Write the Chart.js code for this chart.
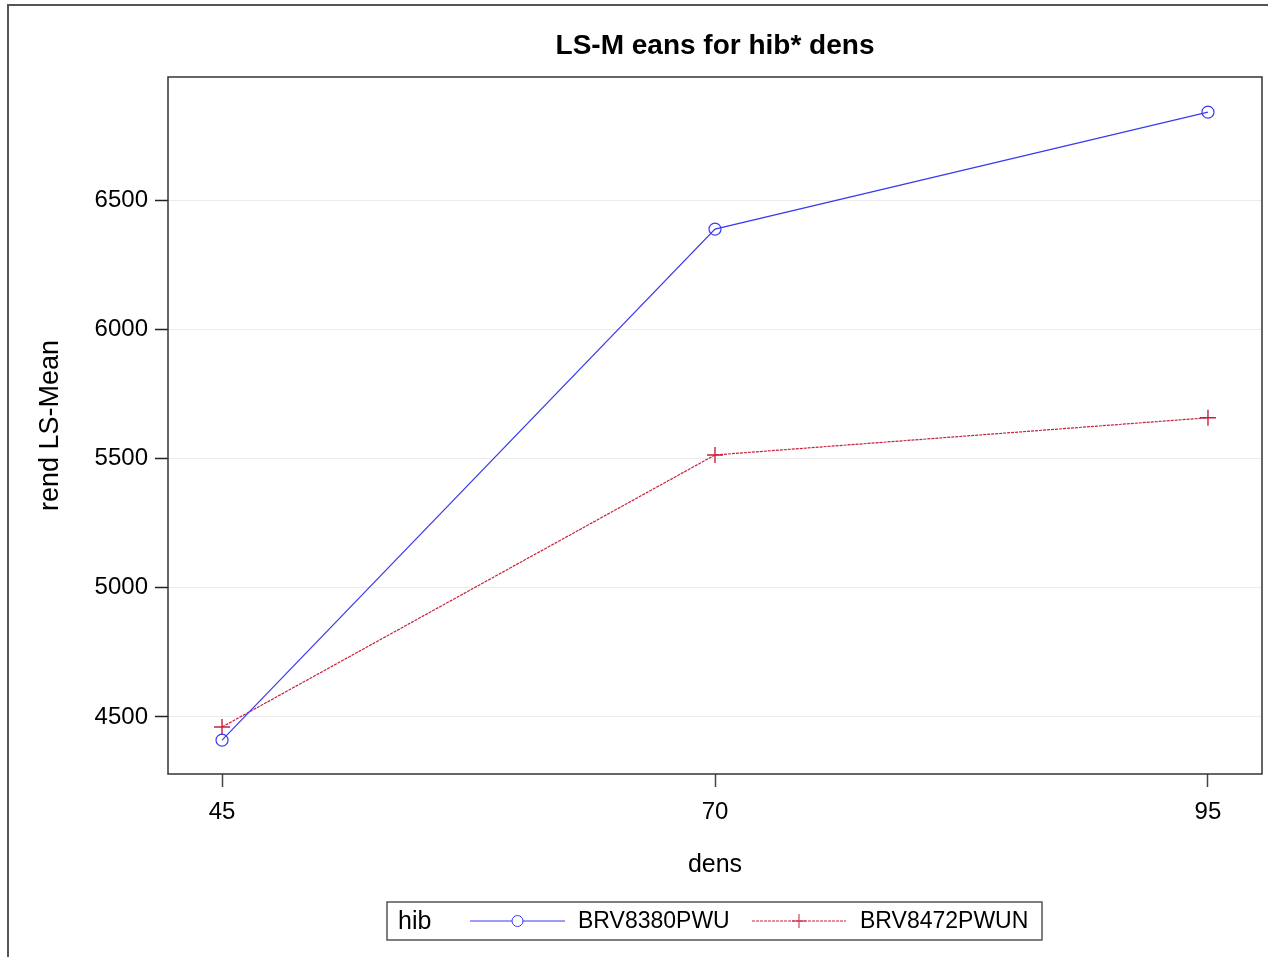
<!DOCTYPE html>
<html>
<head>
<meta charset="utf-8">
<script src="https://cdn.jsdelivr.net/npm/chart.js@4/dist/chart.umd.min.js"></script>
<style>
  html, body { margin: 0; padding: 0; background: #fff; }
  #wrap { width: 1268px; height: 957px; position: relative; }
</style>
</head>
<body>
<div id="wrap"><canvas id="c" width="1268" height="957"></canvas></div>
<script>
const titleText = 'LS-M eans for hib* dens';
const xTitle = 'dens';
const yTitle = 'rend LS-Mean';
const legendTitle = 'hib';
const dens = [45, 70, 95];
const seriesNames = ['BRV8380PWU', 'BRV8472PWUN'];
const brv8380 = [4410, 6388, 6841];
const brv8472 = [4461, 5514, 5658];
const xTicks = [45, 70, 95];
const yTicks = [4500, 5000, 5500, 6000, 6500];

const FONT = '"Liberation Sans", Arial, sans-serif';
const blue = '#3a3af0';
const red = '#c8203c';

const toPts = (xs, ys) => xs.map((x, i) => ({ x: x, y: ys[i] }));

const framePlugin = {
  id: 'frame',
  beforeDraw(chart) {
    const ctx = chart.ctx;
    ctx.save();
    ctx.fillStyle = '#fff';
    ctx.fillRect(0, 0, chart.width, chart.height);
    ctx.strokeStyle = '#555';
    ctx.lineWidth = 2;
    ctx.beginPath();
    ctx.moveTo(8, 957);
    ctx.lineTo(8, 5);
    ctx.lineTo(1268, 5);
    ctx.stroke();
    ctx.restore();
  },
  afterDraw(chart) {
    const ctx = chart.ctx;
    const a = chart.chartArea;
    ctx.save();
    // plot box
    ctx.strokeStyle = '#333';
    ctx.lineWidth = 1.5;
    ctx.strokeRect(a.left, a.top, a.right - a.left, a.bottom - a.top);
    // title
    ctx.fillStyle = '#000';
    ctx.font = 'bold 28px ' + FONT;
    ctx.textAlign = 'center';
    ctx.textBaseline = 'middle';
    ctx.fillText(titleText, (a.left + a.right) / 2, 46);
    // legend
    const lx = 387, ly = 902, lw = 655, lh = 38;
    ctx.strokeStyle = '#555';
    ctx.lineWidth = 1.5;
    ctx.strokeRect(lx, ly, lw, lh);
    const cy = ly + lh / 2;
    ctx.font = '25px ' + FONT;
    ctx.textAlign = 'left';
    ctx.fillText(legendTitle, 398, cy + 1);
    ctx.font = '23px ' + FONT;
    const ds = chart.data.datasets;
    const entries = [{ x0: 470, x1: 565, tx: 578 }, { x0: 752, x1: 846, tx: 860 }];
    entries.forEach((e, i) => {
      const d = ds[i];
      ctx.strokeStyle = d.borderColor;
      ctx.lineWidth = 1;
      ctx.setLineDash(d.borderDash || []);
      ctx.beginPath();
      ctx.moveTo(e.x0, cy);
      ctx.lineTo(e.x1, cy);
      ctx.stroke();
      ctx.setLineDash([]);
      const mx = (e.x0 + e.x1) / 2;
      ctx.beginPath();
      if (d.pointStyle === 'circle') {
        ctx.fillStyle = '#fff';
        ctx.arc(mx, cy, 5.5, 0, Math.PI * 2);
        ctx.fill();
        ctx.stroke();
      } else {
        ctx.moveTo(mx - 7, cy); ctx.lineTo(mx + 7, cy);
        ctx.moveTo(mx, cy - 7); ctx.lineTo(mx, cy + 7);
        ctx.stroke();
      }
      ctx.fillStyle = '#000';
      ctx.fillText(d.label, e.tx, cy + 1);
    });
    ctx.restore();
  }
};

new Chart(document.getElementById('c'), {
  type: 'line',
  data: {
    datasets: [
      {
        label: seriesNames[0],
        data: toPts(dens, brv8380),
        borderColor: blue,
        backgroundColor: 'rgba(0,0,0,0)',
        borderWidth: 1.2,
        pointStyle: 'circle',
        pointRadius: 6,
        pointBorderWidth: 1.2,
        pointBorderColor: blue,
        pointBackgroundColor: 'rgba(0,0,0,0)',
        tension: 0
      },
      {
        label: seriesNames[1],
        data: toPts(dens, brv8472),
        borderColor: red,
        backgroundColor: 'rgba(0,0,0,0)',
        borderWidth: 1.2,
        borderDash: [3, 1],
        pointStyle: 'cross',
        pointRadius: 8,
        pointBorderWidth: 1.4,
        pointBorderColor: red,
        tension: 0
      }
    ]
  },
  options: {
    responsive: false,
    animation: false,
    events: [],
    layout: { autoPadding: false, padding: { top: 77, right: 6, bottom: 0, left: 0 } },
    plugins: {
      legend: { display: false },
      title: { display: false },
      tooltip: { enabled: false }
    },
    scales: {
      x: {
        type: 'linear',
        min: 42.26,
        max: 97.74,
        afterBuildTicks(s) { s.ticks = xTicks.map(v => ({ value: v })); },
        afterFit(s) { s.height = 957 - 774; s.paddingLeft = 0; s.paddingRight = 0; },
        grid: {
          drawOnChartArea: false,
          drawTicks: true,
          tickLength: 13,
          tickColor: '#444',
          tickWidth: 1.5
        },
        border: { display: false },
        ticks: {
          color: '#000',
          font: { family: FONT, size: 24 },
          padding: 11,
          maxRotation: 0,
          callback: v => String(v)
        },
        title: {
          display: true,
          text: xTitle,
          color: '#000',
          font: { family: FONT, size: 25 },
          padding: { top: 0, bottom: 77 }
        }
      },
      y: {
        type: 'linear',
        min: 4279,
        max: 6977,
        afterBuildTicks(s) { s.ticks = yTicks.map(v => ({ value: v })); },
        afterFit(s) { s.width = 168; s.paddingTop = 0; s.paddingBottom = 0; },
        grid: {
          color: '#ebebeb',
          lineWidth: 1,
          drawTicks: true,
          tickLength: 13,
          tickColor: '#222',
          tickWidth: 1.5
        },
        border: { display: false },
        ticks: {
          color: '#000',
          font: { family: FONT, size: 24 },
          padding: 7,
          callback: v => String(v)
        },
        title: {
          display: true,
          text: yTitle,
          color: '#000',
          font: { family: FONT, size: 27 },
          padding: { top: 34, bottom: 0 }
        }
      }
    }
  },
  plugins: [framePlugin]
});
</script>
</body>
</html>
